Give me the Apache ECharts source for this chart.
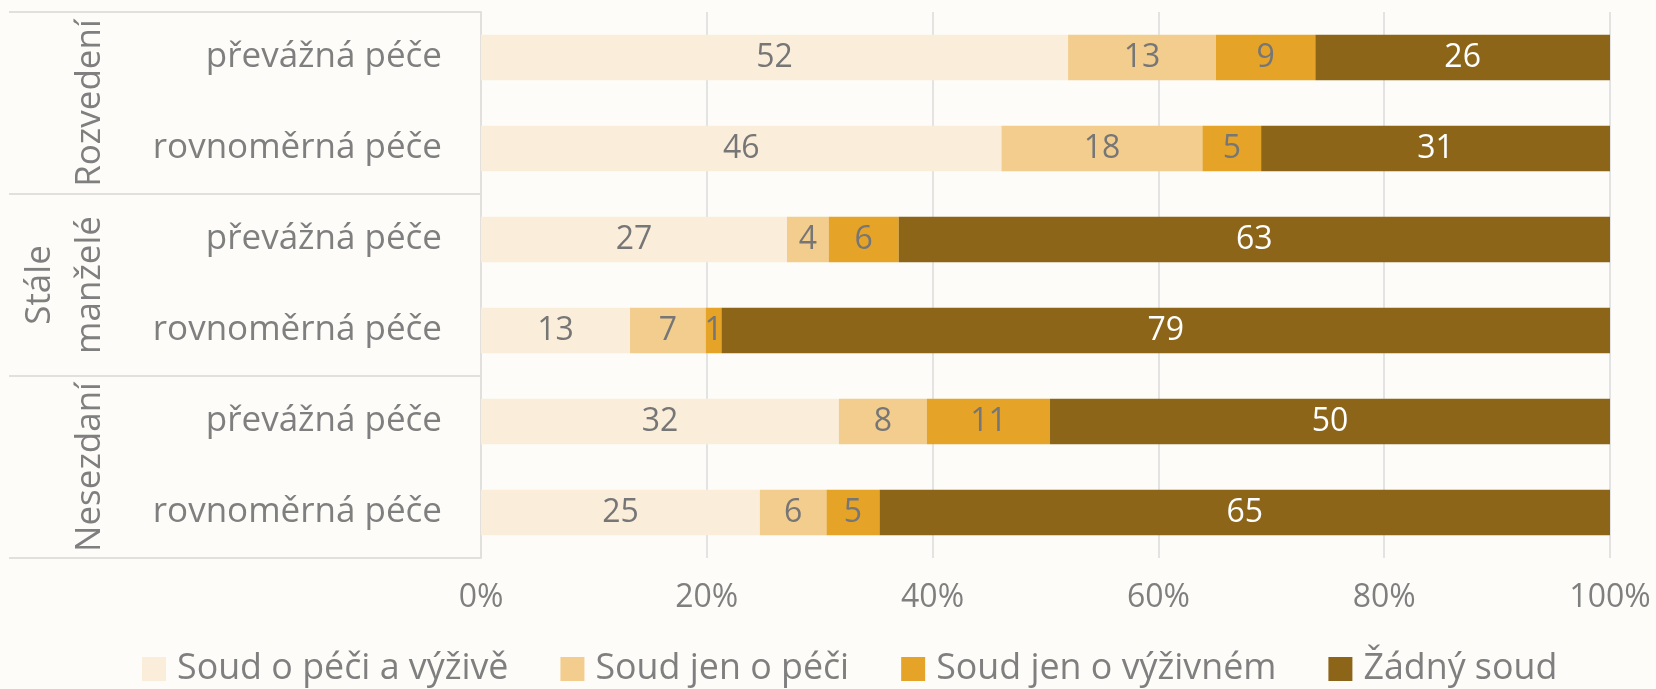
<!DOCTYPE html>
<html>
<head>
<meta charset="utf-8">
<script src="https://cdn.jsdelivr.net/npm/echarts@6/dist/echarts.min.js"></script>
<style>
  html, body { margin: 0; padding: 0; background: #fdfcf9; }
  #chart { width: 1656px; height: 689px; }
</style>
</head>
<body>
<div id="chart"></div>
<script>
var rows = ['převážná péče', 'rovnoměrná péče', 'převážná péče', 'rovnoměrná péče', 'převážná péče', 'rovnoměrná péče'];
var groups = ['Rozvedení', 'Stále\nmanželé', 'Nesezdaní'];
var seriesNames = ['Soud o péči a výživě', 'Soud jen o péči', 'Soud jen o výživném', 'Žádný soud'];
var pecePlusVyzivne = [52.0, 46.1, 27.1, 13.2, 31.7, 24.7];
var jenPece = [13.1, 17.8, 3.7, 6.7, 7.8, 5.9];
var jenVyzivne = [8.8, 5.2, 6.2, 1.4, 10.9, 4.7];
var zadnySoud = [26.1, 30.9, 63.0, 78.7, 49.6, 64.7];
var xTicks = [0, 20, 40, 60, 80, 100];

var colors = ['#faeedb', '#f2cd8d', '#e5a427', '#8c6519'];
var labelColors = ['#767676', '#767676', '#767676', '#ffffff'];
var textColor = '#7f7f7f';
var fontFamily = '"Open Sans", sans-serif';

var chartDom = document.getElementById('chart');
var myChart = echarts.init(chartDom);

var allData = [pecePlusVyzivne, jenPece, jenVyzivne, zadnySoud];
var seriesOption = [];
for (var i = 0; i < allData.length; i++) {
  seriesOption.push({
    name: seriesNames[i],
    type: 'bar',
    stack: 'total',
    barWidth: '50%',
    yAxisIndex: 0,
    itemStyle: { color: colors[i] },
    label: {
      show: true,
      position: 'inside',
      color: labelColors[i],
      fontSize: 32,
      fontFamily: fontFamily,
      formatter: function (p) { return Math.round(p.value); }
    },
    data: allData[i]
  });
}

var option = {
  backgroundColor: '#fdfcf9',
  animation: false,
  textStyle: { fontFamily: fontFamily },
  grid: { left: 481, right: 46, top: 12, bottom: 131 },
  legend: {
    data: seriesNames,
    left: 137,
    top: 646,
    itemWidth: 24,
    itemHeight: 24,
    itemGap: 52,
    icon: 'rect',
    textStyle: { color: textColor, fontSize: 35.8, fontFamily: fontFamily, padding: [0, 0, 0, 6] }
  },
  xAxis: {
    type: 'value',
    min: xTicks[0],
    max: xTicks[xTicks.length - 1],
    interval: 20,
    axisLine: { show: false },
    axisTick: { show: false },
    splitLine: { lineStyle: { color: '#e3e3e3', width: 2 } },
    axisLabel: { formatter: '{value}%', color: textColor, fontSize: 32, margin: 24, fontFamily: fontFamily }
  },
  yAxis: [
    {
      type: 'category',
      inverse: true,
      data: rows,
      axisLine: { show: false },
      axisTick: { show: false },
      axisLabel: { color: textColor, fontSize: 35, margin: 39, fontFamily: fontFamily }
    },
    {
      type: 'category',
      inverse: true,
      position: 'left',
      offset: 0,
      data: groups,
      axisLine: { show: true, lineStyle: { color: '#e2e0dc', width: 2 } },
      axisTick: { show: true, interval: 0, length: 472, lineStyle: { color: '#e2e0dc', width: 2 } },
      axisLabel: { interval: 0, color: textColor, fontSize: 35, rotate: 90, margin: 366, lineHeight: 50, fontFamily: fontFamily }
    }
  ],
  series: seriesOption
};
option && myChart.setOption(option);
</script>
</body>
</html>
